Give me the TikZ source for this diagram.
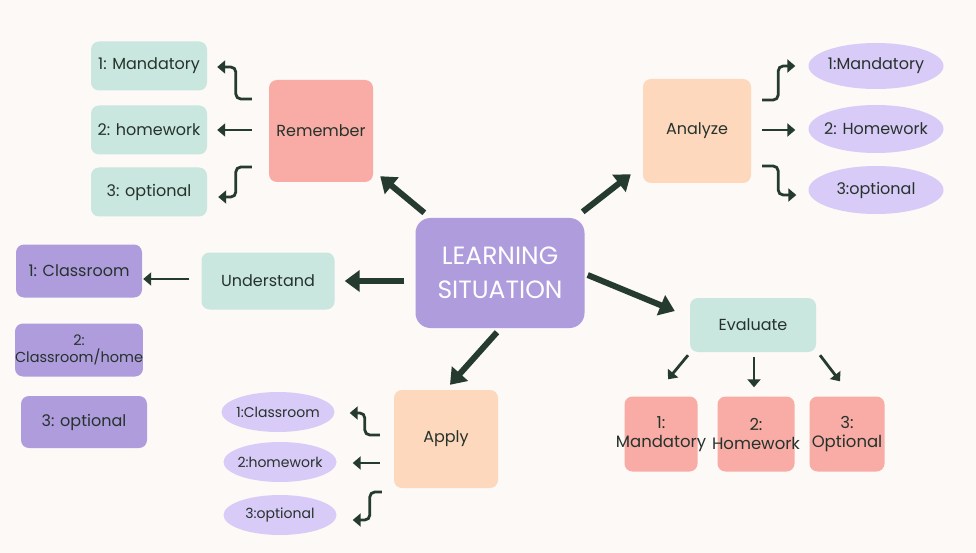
\documentclass[tikz,border=0pt]{standalone}
\usepackage{fontspec}
\setmainfont{Poppins}
\usetikzlibrary{arrows.meta,shapes.geometric,calc}
\definecolor{bg}{HTML}{FCF9F6}
\definecolor{teal}{HTML}{C9E6DF}
\definecolor{salmon}{HTML}{F8ACA5}
\definecolor{peach}{HTML}{FDD8BC}
\definecolor{purp}{HTML}{AE9CDD}
\definecolor{lav}{HTML}{D8CBF7}
\definecolor{arrowc}{HTML}{263B30}
\definecolor{txt}{HTML}{26322C}
\tikzset{
  box/.style={rounded corners=8pt, inner sep=0pt, align=center, text=txt,
    font=\fontsize{16}{19}\selectfont},
  oval/.style={ellipse, inner sep=0pt, fill=lav},
  ovaltext/.style={inner sep=0pt, text=txt, font=\fontsize{16}{19}\selectfont},
  bigarrow/.style={draw=arrowc, line width=6pt, -{Triangle[length=15pt,width=21pt]}},
  smallarrow/.style={draw=arrowc, line width=2.8pt, rounded corners=5pt,
    -{Triangle[length=8pt,width=13pt]}},
}
\begin{document}
\begin{tikzpicture}[x=1pt,y=-1pt]
\fill[bg] (0,0) rectangle (976,553);
\useasboundingbox (0,0) rectangle (976,553);

% centre
\node[box, rounded corners=15pt, fill=purp, text=white, minimum width=169pt, minimum height=110pt,
  font=\fontsize{25}{34}\selectfont] (c) at (500,273) {LEARNING\\SITUATION};

% Remember branch
\node[box, fill=salmon, minimum width=104pt, minimum height=102pt] (rem) at (321,131) {Remember};
\node[box, fill=teal, minimum width=116pt, minimum height=49pt] (m1) at (149,66) {1: Mandatory};
\node[box, fill=teal, minimum width=116pt, minimum height=49pt] (m2) at (149,130) {2: homework};
\node[box, fill=teal, minimum width=116pt, minimum height=49pt] (m3) at (149,192) {3: optional};

% Analyze branch
\node[box, fill=peach, minimum width=108pt, minimum height=104pt] (ana) at (697,131) {Analyze};
\node[oval, minimum width=135pt, minimum height=46pt] (a1) at (876,66) {};
\node[oval, minimum width=135pt, minimum height=48pt] (a2) at (876,129) {};
\node[oval, minimum width=135pt, minimum height=48pt] (a3) at (876,190) {};
\node[ovaltext] (a1t) at (a1) {1:Mandatory};
\node[ovaltext] (a2t) at (a2) {2: Homework};
\node[ovaltext] (a3t) at (a3) {3:optional};

% Understand branch
\node[box, fill=teal, minimum width=133pt, minimum height=57pt] (und) at (268,281) {Understand};
\node[box, fill=purp, minimum width=126pt, minimum height=53pt] (u1) at (79,271) {1: Classroom};
\node[box, fill=purp, minimum width=126pt, minimum height=53pt,
  font=\fontsize{14.5}{17}\selectfont] (u2) at (79,350) {2:\\Classroom/home};
\node[box, fill=purp, minimum width=126pt, minimum height=52pt] (u3) at (84,422) {3: optional};

% Apply branch
\node[box, fill=peach, minimum width=104pt, minimum height=98pt] (ap) at (446,439) {Apply};
\node[oval, minimum width=113pt, minimum height=40pt] (p1) at (278,412) {};
\node[oval, minimum width=113pt, minimum height=40pt] (p2) at (280,462) {};
\node[oval, minimum width=113pt, minimum height=40pt] (p3) at (280,515) {};
\node[ovaltext, font=\fontsize{14}{17}\selectfont] (p1t) at (p1) {1:Classroom};
\node[ovaltext, font=\fontsize{14}{17}\selectfont] (p2t) at (p2) {2:homework};
\node[ovaltext, font=\fontsize{14}{17}\selectfont] (p3t) at (p3) {3:optional};

% Evaluate branch
\node[box, fill=teal, minimum width=126pt, minimum height=54pt] (ev) at (753,325) {Evaluate};
\node[box, fill=salmon, minimum width=73pt, minimum height=75pt] (e1) at (661,434) {};
\node[box, fill=salmon, minimum width=77pt, minimum height=75pt] (e2) at (756,434) {};
\node[box, fill=salmon, minimum width=75pt, minimum height=75pt] (e3) at (847,434) {};
\node[box, font=\fontsize{16.5}{19}\selectfont] (e1t) at (e1) {1:\\Mandatory};
\node[box, font=\fontsize{16.5}{19}\selectfont] (e2t) at (e2) {2:\\Homework};
\node[box, font=\fontsize{16.5}{19}\selectfont] (e3t) at (e3) {3:\\Optional};

% big arrows from the centre
\draw[bigarrow] ($(c.north west)+(9,-5)$) -- ($(rem.south east)+(7,-6)$);
\draw[bigarrow] ($(c.north east)+(-2,-6)$) -- ($(ana.south west)+(-12,-9)$);
\draw[bigarrow] ($(c.west)+(-11,8)$) -- ($(und.east)+(10,0)$);
\draw[bigarrow] ($(c.south)+(-3,4)$) -- ($(ap.north)+(4,-5)$);
\draw[bigarrow] ($(c.east)+(3,2)$) -- ($(ev.west)+(-15,-14)$);

% Remember arrows
\draw[smallarrow] ($(rem.west)+(-17,-32)$) -- ++(-16,0) |- ($(m1.east)+(10,1)$);
\draw[smallarrow] ($(rem.west)+(-17,-1)$) -- ($(m2.east)+(10,0)$);
\draw[smallarrow] ($(rem.west)+(-17,36)$) -- ++(-16,0) |- ($(m3.east)+(11,5)$);

% Analyze arrows
\draw[smallarrow] ($(ana.east)+(11,-31)$) -- ++(16,0) |- ($(a1.west)+(-13,0)$);
\draw[smallarrow] ($(ana.east)+(11,-1)$) -- ($(a2.west)+(-13,1)$);
\draw[smallarrow] ($(ana.east)+(11,35)$) -- ++(16,0) |- ($(a3.west)+(-12,5)$);

% Understand arrow
\draw[smallarrow] ($(und.west)+(-12,-2)$) -- ($(u1.east)+(1,8)$);

% Apply arrows
\draw[smallarrow] ($(ap.west)+(-14,-4)$) -- ++(-15,0) |- ($(p1.east)+(15,1)$);
\draw[smallarrow] ($(ap.west)+(-14,24)$) -- ($(p2.east)+(16,1)$);
\draw[smallarrow] ($(ap.west)+(-12,53)$) -- ++(-12,0) |- ($(p3.east)+(16,5)$);

% Evaluate arrows
\draw[smallarrow] ($(ev.south)+(-65,3)$) -- ($(e1.north)+(7,-17)$);
\draw[smallarrow] ($(ev.south)+(1,5)$) -- ($(e2.north)+(-2,-9)$);
\draw[smallarrow] ($(ev.south)+(67,3)$) -- ($(e3.north)+(-7,-15)$);
\end{tikzpicture}
\end{document}
